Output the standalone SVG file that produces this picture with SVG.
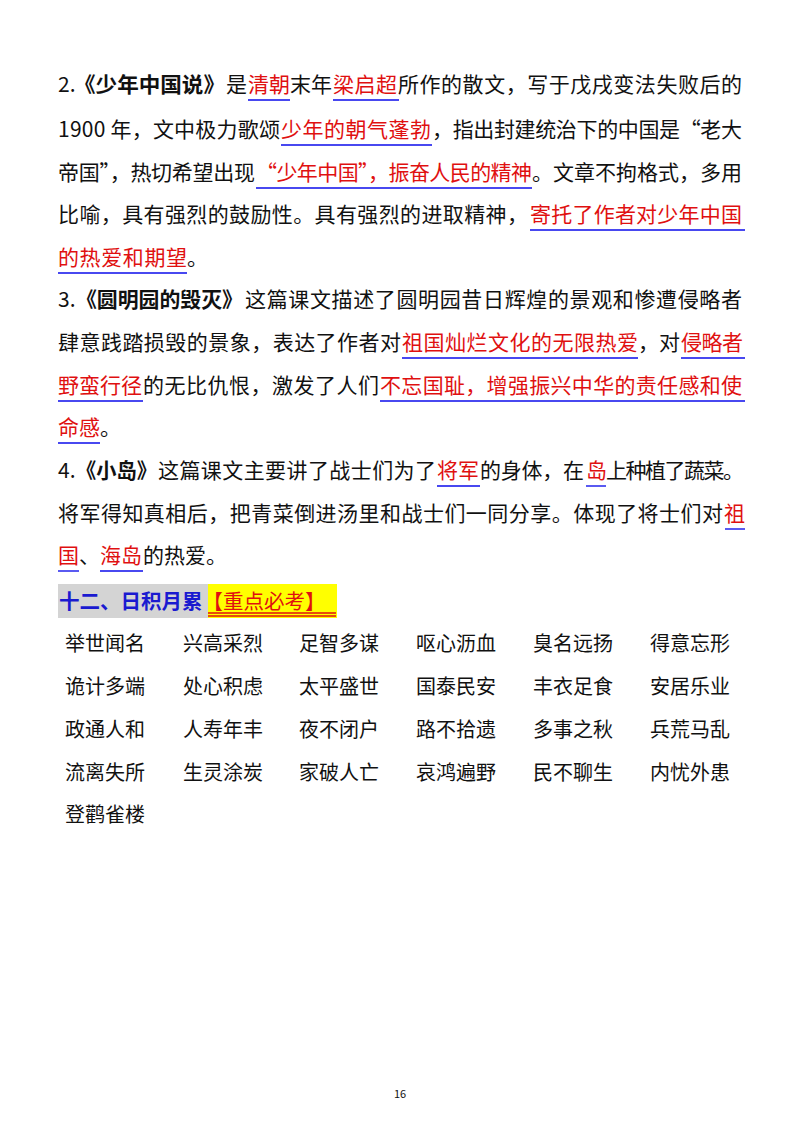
<svg xmlns="http://www.w3.org/2000/svg" width="800" height="1132" viewBox="0 0 800 1132">
<style>
text{font-family:"Noto Sans CJK SC","Noto Sans",sans-serif;font-size:21px;fill:#111}
.r{fill:#e01010}
.b{font-weight:bold}
.u{stroke:#4848f0;stroke-width:1.8}
.i{font-size:20px}
</style>
<rect width="800" height="1132" fill="#fff"/>
<g id="p2">
<text x="58" y="92">2.</text>
<text class="b" x="74" y="92" textLength="151" lengthAdjust="spacingAndGlyphs">《少年中国说》</text>
<text x="226" y="92">是</text>
<text class="r" x="248" y="92" textLength="42">清朝</text>
<text x="290" y="92" textLength="42">末年</text>
<text class="r" x="333" y="92" textLength="64">梁启超</text>
<text x="398" y="92" textLength="344">所作的散文，写于戊戌变法失败后的</text>
<text x="58" y="137" textLength="222">1900 年，文中极力歌颂</text>
<text class="r" x="281" y="137" textLength="150">少年的朝气蓬勃</text>
<text x="432" y="137" textLength="310">，指出封建统治下的中国是“老大</text>
<text x="58" y="180" textLength="197">帝国”，热切希望出现</text>
<text class="r" x="256" y="180" textLength="276">“少年中国”，振奋人民的精神</text>
<text x="532" y="180" textLength="210">。文章不拘格式，多用</text>
<text x="58" y="222" textLength="470">比喻，具有强烈的鼓励性。具有强烈的进取精神，</text>
<text class="r" x="530" y="222" textLength="212">寄托了作者对少年中国</text>
<text class="r" x="58" y="265" textLength="129">的热爱和期望</text>
<text x="187" y="265">。</text>
</g>
<g id="p3">
<text x="58" y="307">3.</text>
<text class="b" x="76" y="307" textLength="167" lengthAdjust="spacingAndGlyphs">《圆明园的毁灭》</text>
<text x="245" y="307" textLength="497">这篇课文描述了圆明园昔日辉煌的景观和惨遭侵略者</text>
<text x="58" y="350" textLength="343">肆意践踏损毁的景象，表达了作者对</text>
<text class="r" x="402" y="350" textLength="236">祖国灿烂文化的无限热爱</text>
<text x="638" y="350" textLength="42">，对</text>
<text class="r" x="681" y="350" textLength="62">侵略者</text>
<text class="r" x="58" y="393" textLength="84">野蛮行径</text>
<text x="143" y="393" textLength="236">的无比仇恨，激发了人们</text>
<text class="r" x="380" y="393" textLength="362">不忘国耻，增强振兴中华的责任感和使</text>
<text class="r" x="58" y="435" textLength="42">命感</text>
<text x="100" y="435">。</text>
</g>
<g id="p4">
<text x="58" y="478">4.</text>
<text class="b" x="76" y="478" textLength="81" lengthAdjust="spacingAndGlyphs">《小岛》</text>
<text x="158" y="478" textLength="278">这篇课文主要讲了战士们为了</text>
<text class="r" x="437" y="478" textLength="42">将军</text>
<text x="480" y="478" textLength="104">的身体，在</text>
<text class="r" x="586" y="478">岛</text>
<text x="606" y="478" textLength="138">上种植了蔬菜。</text>
<text x="58" y="521" textLength="665">将军得知真相后，把青菜倒进汤里和战士们一同分享。体现了将士们对</text>
<text class="r" x="724" y="521">祖</text>
<text class="r" x="58" y="563">国</text>
<text x="79" y="563">、</text>
<text class="r" x="100" y="563" textLength="42">海岛</text>
<text x="143" y="563">的热爱。</text>
</g>
<g id="underlines">
<line class="u" x1="248" y1="100" x2="290" y2="100"/>
<line class="u" x1="333" y1="100" x2="399" y2="100"/>
<line class="u" x1="281" y1="145" x2="432" y2="145"/>
<line class="u" x1="256" y1="188" x2="532" y2="188"/>
<line class="u" x1="530" y1="230" x2="745" y2="230"/>
<line class="u" x1="58" y1="273" x2="187" y2="273"/>
<line class="u" x1="402" y1="358" x2="638" y2="358"/>
<line class="u" x1="681" y1="358" x2="745" y2="358"/>
<line class="u" x1="58" y1="401" x2="143" y2="401"/>
<line class="u" x1="380" y1="401" x2="745" y2="401"/>
<line class="u" x1="58" y1="443" x2="100" y2="443"/>
<line class="u" x1="437" y1="486" x2="480" y2="486"/>
<line class="u" x1="586" y1="486" x2="606" y2="486"/>
<line class="u" x1="725" y1="529" x2="745" y2="529"/>
<line class="u" x1="58" y1="571" x2="79" y2="571"/>
<line class="u" x1="100" y1="571" x2="143" y2="571"/>
</g>
<g id="heading">
<rect x="58" y="584" width="150" height="34" fill="#d4d4d4"/>
<rect x="208" y="584" width="129" height="34" fill="#ffff00"/>
<text x="59" y="609" class="b" style="fill:#1a1ad0;font-size:20.5px">十二、日积月累<tspan class="r" style="font-weight:normal">【重点必考】</tspan></text>
<line x1="208" y1="613" x2="336" y2="613" stroke="#e01010" stroke-width="1.3"/>
<line x1="208" y1="616" x2="336" y2="616" stroke="#e01010" stroke-width="1.3"/>
</g>
<g id="idioms">
<text class="i" x="65" y="651">举世闻名</text><text class="i" x="183" y="651">兴高采烈</text><text class="i" x="299" y="651">足智多谋</text><text class="i" x="416" y="651">呕心沥血</text><text class="i" x="533" y="651">臭名远扬</text><text class="i" x="650" y="651">得意忘形</text>
<text class="i" x="65" y="694">诡计多端</text><text class="i" x="183" y="694">处心积虑</text><text class="i" x="299" y="694">太平盛世</text><text class="i" x="416" y="694">国泰民安</text><text class="i" x="533" y="694">丰衣足食</text><text class="i" x="650" y="694">安居乐业</text>
<text class="i" x="65" y="737">政通人和</text><text class="i" x="183" y="737">人寿年丰</text><text class="i" x="299" y="737">夜不闭户</text><text class="i" x="416" y="737">路不拾遗</text><text class="i" x="533" y="737">多事之秋</text><text class="i" x="650" y="737">兵荒马乱</text>
<text class="i" x="65" y="780">流离失所</text><text class="i" x="183" y="780">生灵涂炭</text><text class="i" x="299" y="780">家破人亡</text><text class="i" x="416" y="780">哀鸿遍野</text><text class="i" x="533" y="780">民不聊生</text><text class="i" x="650" y="780">内忧外患</text>
<text class="i" x="65" y="822">登鹳雀楼</text>
</g>
<text x="400" y="1098" text-anchor="middle" style="font-size:11px">16</text>
</svg>
